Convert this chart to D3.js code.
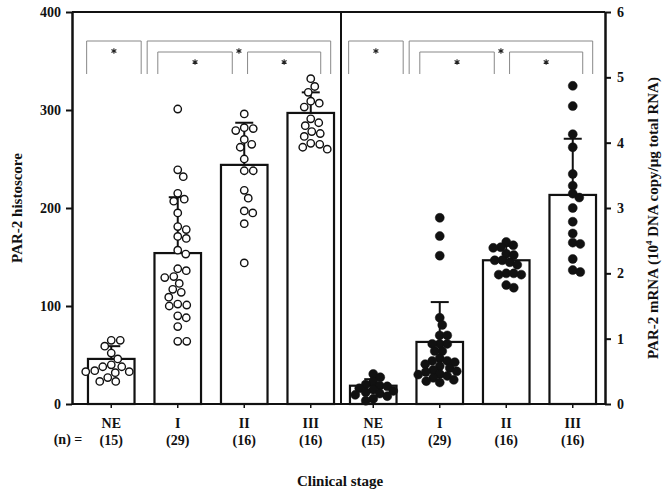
<!DOCTYPE html>
<html><head><meta charset="utf-8">
<script src="https://cdn.jsdelivr.net/npm/d3@7"></script>
<style>
html,body{margin:0;padding:0;background:#fff;}
svg{display:block;font-family:"Liberation Serif","Times New Roman",serif;font-weight:bold;}
</style></head>
<body>
<svg id="c" width="662" height="492"></svg>
<script>
// ---- data ----
const categories = ["NE","I","II","III"];
const nLabels = ["(15)","(29)","(16)","(16)"];
// left panel: PAR-2 histoscore
const histoMean = [46, 154, 244, 297];
const histoSD   = [13, 57, 43, 21];
const histoNE  = [65,65,59,52,46,40,38,38,34,33,33,32,27,23,23];
const histoI   = [301,239,232,215,209,207,195,181,178,171,169,157,153,138,136,130,129,123,117,114,109,102,101,100,90,88,79,64,64];
const histoII  = [296,282,281,279,270,265,262,250,238,238,218,210,197,195,184,144];
const histoIII = [332,324,318,309,307,303,291,287,284,278,276,273,266,265,262,260];
// right panel: PAR-2 mRNA
const mrnaMean = [0.28, 0.95, 2.2, 3.2];
const mrnaSD   = [0.10, 0.61, 0.22, 0.86];
const mrnaNE  = [0.46,0.41,0.34,0.30,0.28,0.27,0.24,0.22,0.20,0.18,0.16,0.14,0.12,0.08,0.05];
const mrnaI   = [2.85,2.57,2.27,1.32,1.21,1.05,1.05,0.92,0.92,0.92,0.81,0.81,0.70,0.66,0.66,0.64,0.61,0.58,0.55,0.52,0.50,0.49,0.46,0.45,0.43,0.40,0.37,0.35,0.33];
const mrnaII  = [2.48,2.43,2.40,2.39,2.30,2.28,2.20,2.20,2.17,2.13,2.00,2.00,1.98,1.98,1.82,1.78];
const mrnaIII = [4.87,4.56,4.13,3.93,3.52,3.34,3.22,3.16,3.00,2.79,2.61,2.47,2.45,2.22,2.05,2.02];
const histoTicks = [0,100,200,300,400];
const mrnaTicks = [0,1,2,3,4,5,6];
// significance brackets: [from, to] on the category index axis, level
const bracketFrom = [-0.37, 0.54, 0.70, 2.05];
const bracketTo   = [0.45, 3.30, 1.82, 3.15];
const bracketLevel = [0, 0, 1, 1];

// ---- drawing ----
const svg = d3.select("#c");
const plotTop = 12, plotBottom = 404, leftX = 72, midX = 341, rightX = 605;

const yL = d3.scaleLinear().domain([0,400]).range([plotBottom, plotTop]);
const yR = d3.scaleLinear().domain([0,6]).range([plotBottom, plotTop]);
const xL = d3.scaleBand().domain(categories).range([78, 344]).paddingInner(0.3).paddingOuter(0.15);
const xR = d3.scaleBand().domain(categories).range([340, 606]).paddingInner(0.3).paddingOuter(0.15);

function swarm(vals, y, cx, minD){
  const placed = [];
  return vals.map(v => {
    const py = y(v);
    let off = 0;
    for (let k = 0; k < 200; k++){
      const cand = k === 0 ? 0 : (k % 2 ? 1 : -1) * Math.ceil(k/2) * 0.5;
      if (placed.every(p => Math.hypot(p.x - cand, p.y - py) >= minD)) { off = cand; break; }
    }
    placed.push({x: off, y: py});
    return {x: cx + off, y: py};
  });
}

const star = d3.symbol().type(d3.symbolAsterisk).size(22);

function panel(x, y, means, sds, groups, filled){
  const g = svg.append("g");
  const bw = x.bandwidth();
  g.selectAll("rect.bar").data(categories).join("rect")
    .attr("x", d => x(d)).attr("width", bw)
    .attr("y", (d,i) => y(means[i])).attr("height", (d,i) => y(0) - y(means[i]))
    .attr("fill", "#fff").attr("stroke", "#111").attr("stroke-width", 2.2);
  categories.forEach((c,i) => {
    const cx = x(c) + bw/2;
    g.append("line").attr("x1", cx).attr("x2", cx).attr("y1", y(means[i])).attr("y2", y(means[i] + sds[i]))
      .attr("stroke", "#111").attr("stroke-width", 2);
    g.append("line").attr("x1", cx - 9).attr("x2", cx + 9).attr("y1", y(means[i] + sds[i])).attr("y2", y(means[i] + sds[i]))
      .attr("stroke", "#111").attr("stroke-width", 2);
  });
  categories.forEach((c,i) => {
    const cx = x(c) + bw/2;
    const pts = swarm(groups[i], y, cx, filled ? 7.5 : 8.6);
    g.selectAll(null).data(pts).join("circle")
      .attr("cx", d => d.x).attr("cy", d => d.y)
      .attr("r", filled ? 4.5 : 3.7)
      .attr("fill", filled ? "#111" : "#fff")
      .attr("stroke", "#111").attr("stroke-width", filled ? 0.5 : 1.4);
  });
  const pos = d3.scaleLinear().domain([0,3]).range([x("NE") + bw/2, x("III") + bw/2]);
  const legBottom = 74;
  bracketFrom.forEach((f,i) => {
    const x1 = pos(f), x2 = pos(bracketTo[i]);
    const ty = bracketLevel[i] === 0 ? 41 : 52;
    g.append("path").attr("d", `M${x1},${legBottom}V${ty}H${x2}V${legBottom}`)
      .attr("fill", "none").attr("stroke", "#888").attr("stroke-width", 1);
    g.append("path").attr("d", star)
      .attr("transform", `translate(${(x1 + x2)/2},${ty + 10})`)
      .attr("fill", "none").attr("stroke", "#222").attr("stroke-width", 1.1);
  });
  const ax = g.append("g").attr("transform", `translate(0,${plotBottom})`)
    .call(d3.axisBottom(x).tickSize(4).tickSizeOuter(0).tickPadding(10));
  ax.select(".domain").remove();
  ax.selectAll(".tick line").attr("stroke", "#111").attr("stroke-width", 1.5);
  ax.selectAll(".tick text").attr("font-size", 14).attr("font-family", "Liberation Serif").attr("font-weight", "bold").attr("fill", "#111")
    .each(function(d,i){
      d3.select(this).append("tspan").attr("x", 0).attr("dy", "1.2em").text(nLabels[i]);
    });
}

panel(xL, yL, histoMean, histoSD, [histoNE, histoI, histoII, histoIII], false);
panel(xR, yR, mrnaMean, mrnaSD, [mrnaNE, mrnaI, mrnaII, mrnaIII], true);

svg.append("line").attr("x1", leftX).attr("x2", rightX).attr("y1", plotTop).attr("y2", plotTop).attr("stroke", "#111").attr("stroke-width", 2);
svg.append("line").attr("x1", leftX).attr("x2", rightX).attr("y1", plotBottom).attr("y2", plotBottom).attr("stroke", "#111").attr("stroke-width", 2);
svg.append("line").attr("x1", midX).attr("x2", midX).attr("y1", plotTop).attr("y2", plotBottom).attr("stroke", "#111").attr("stroke-width", 2);

const axL = svg.append("g").attr("transform", `translate(${leftX},0)`)
  .call(d3.axisLeft(yL).tickValues(histoTicks).tickFormat(d3.format("d")).tickSize(6).tickSizeOuter(0).tickPadding(5));
axL.select(".domain").attr("stroke", "#111").attr("stroke-width", 2.5);
axL.selectAll(".tick line").attr("stroke", "#111").attr("stroke-width", 2);
axL.selectAll(".tick text").attr("font-size", 14).attr("font-family", "Liberation Serif").attr("font-weight", "bold").attr("fill", "#111");

const axR = svg.append("g").attr("transform", `translate(${rightX},0)`)
  .call(d3.axisRight(yR).tickValues(mrnaTicks).tickFormat(d3.format("d")).tickSize(6).tickSizeOuter(0).tickPadding(6));
axR.select(".domain").attr("stroke", "#111").attr("stroke-width", 2.5);
axR.selectAll(".tick line").attr("stroke", "#111").attr("stroke-width", 2);
axR.selectAll(".tick text").attr("font-size", 14).attr("font-family", "Liberation Serif").attr("font-weight", "bold").attr("fill", "#111");

svg.append("text").attr("x", 68).attr("y", 444).attr("text-anchor", "middle").attr("font-size", 14).attr("fill", "#111").text("(n) =");

svg.append("text").attr("x", 340).attr("y", 486).attr("text-anchor", "middle").attr("font-size", 15).attr("fill", "#111").text("Clinical stage");
svg.append("text").attr("transform", "translate(22,208) rotate(-90)").attr("text-anchor", "middle").attr("font-size", 15).attr("fill", "#111").text("PAR-2 histoscore");
const rt = svg.append("text").attr("transform", "translate(658,218) rotate(-90)").attr("text-anchor", "middle").attr("font-size", 15).attr("fill", "#111");
rt.append("tspan").text("PAR-2 mRNA (10");
rt.append("tspan").attr("font-size", 9).attr("dy", -6).text("4");
rt.append("tspan").attr("dy", 6).text(" DNA copy/μg total RNA)");
</script>
</body></html>
